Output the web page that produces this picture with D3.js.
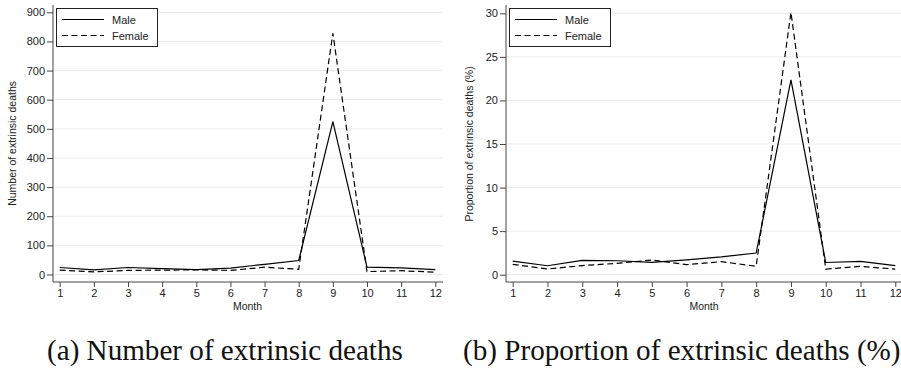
<!DOCTYPE html>
<html><head><meta charset="utf-8">
<script src="https://cdn.jsdelivr.net/npm/d3@7"></script>
<style>body{margin:0;background:#fff}svg{display:block}</style>
</head><body>
<script>
const months = [1,2,3,4,5,6,7,8,9,10,11,12];
const countMale   = [24,16,24,20,17,22,35,48,525,25,23,17];
const countFemale = [15,9,14,15,16,14,25,18,828,10,13,8];
const propMale    = [1.55,1.03,1.65,1.6,1.42,1.7,2.05,2.49,22.35,1.4,1.53,1.05];
const propFemale  = [1.19,0.65,1.05,1.3,1.68,1.15,1.5,0.97,30.1,0.65,0.95,0.65];
const countTicks = [0,100,200,300,400,500,600,700,800,900];
const propTicks  = [0,5,10,15,20,25,30];
const seriesNames = ["Male","Female"];
const captions = ["(a) Number of extrinsic deaths","(b) Proportion of extrinsic deaths (%)"];

const W = 901, H = 369;
const svg = d3.select("body").append("svg").attr("width",W).attr("height",H);
const axisColor = "#444";
const sans = "'Liberation Sans', Arial, Helvetica, sans-serif";
const serif = "'Liberation Serif', 'Times New Roman', serif";

function panel(cfg){
  const g = svg.append("g");
  const x = d3.scaleLinear().domain([1,12]).range([cfg.x1,cfg.x12]);
  const y = d3.scaleLinear().domain([cfg.ticks[0],cfg.ticks[cfg.ticks.length-1]]).range([cfg.y0,cfg.yTop]);
  g.append("g").selectAll("line").data(cfg.ticks).join("line")
    .attr("x1",cfg.axisX+1).attr("x2",cfg.right)
    .attr("y1",d=>y(d)).attr("y2",d=>y(d))
    .attr("stroke","#ebebeb").attr("stroke-width",1);
  const ya = g.append("g").attr("transform",`translate(${cfg.axisX},0)`)
    .call(d3.axisLeft(y).tickValues(cfg.ticks).tickSize(6).tickPadding(2).tickFormat(d3.format("d")));
  ya.select(".domain").attr("d",`M0,${cfg.axisTop}V${cfg.xAxisY}`).attr("stroke",axisColor);
  ya.selectAll(".tick line").attr("stroke",axisColor);
  ya.selectAll(".tick text").attr("font-family",sans).attr("font-size",11).attr("fill","#222");
  const xa = g.append("g").attr("transform",`translate(0,${cfg.xAxisY})`)
    .call(d3.axisBottom(x).tickValues(months).tickSize(5).tickPadding(2).tickFormat(d3.format("d")));
  xa.select(".domain").attr("d",`M${cfg.axisX},0H${cfg.right}`).attr("stroke",axisColor);
  xa.selectAll(".tick line").attr("stroke",axisColor);
  xa.selectAll(".tick text").attr("font-family",sans).attr("font-size",11).attr("fill","#222");
  g.append("text").attr("x",(cfg.x1+cfg.x12)/2).attr("y",cfg.xAxisY+28)
    .attr("text-anchor","middle").attr("font-family",sans).attr("font-size",10.5).attr("fill","#222").text("Month");
  g.append("text").attr("transform",`translate(${cfg.titleX},${(cfg.y0+cfg.yTop)/2}) rotate(-90)`)
    .attr("text-anchor","middle").attr("font-family",sans).attr("font-size",10.5).attr("fill","#222").text(cfg.ytitle);
  const line = d3.line().x((d,i)=>x(months[i])).y(d=>y(d));
  g.append("path").datum(cfg.male).attr("d",line).attr("fill","none").attr("stroke","#000").attr("stroke-width",1.2);
  g.append("path").datum(cfg.female).attr("d",line).attr("fill","none").attr("stroke","#000").attr("stroke-width",1.2).attr("stroke-dasharray","6,3.5");
  const lg = g.append("g").attr("transform",`translate(${cfg.legX},8.5)`);
  lg.append("rect").attr("width",101).attr("height",38).attr("fill","#fff").attr("stroke","#222").attr("stroke-width",1);
  seriesNames.forEach((n,i)=>{
    const yy = 11 + i*16;
    lg.append("line").attr("x1",5.5).attr("x2",47.5).attr("y1",yy).attr("y2",yy)
      .attr("stroke","#000").attr("stroke-width",1.2).attr("stroke-dasharray",i? "6,3.5":null);
    lg.append("text").attr("x",55.5).attr("y",yy+4).attr("font-family",sans).attr("font-size",11).attr("fill","#222").text(n);
  });
}

panel({x1:59.7,x12:435.3,axisX:53,right:443,y0:274.5,yTop:12.3,axisTop:5,xAxisY:282,
  ticks:countTicks,male:countMale,female:countFemale,titleX:16,ytitle:"Number of extrinsic deaths",
  legX:56.5});
panel({x1:512.7,x12:895.3,axisX:506,right:901,y0:274.7,yTop:13.3,axisTop:5,xAxisY:282,
  ticks:propTicks,male:propMale,female:propFemale,titleX:473,ytitle:"Proportion of extrinsic deaths (%)",
  legX:509.5});

// captions: size fitted so caption (a) spans ~356px
const capA = svg.append("text").attr("x",47).attr("y",360).attr("font-family",serif)
  .attr("font-size",26).attr("fill","#111").text(captions[0]);
const wA = capA.node().getComputedTextLength();
const fs = 26*356/wA;
capA.attr("font-size",fs);
svg.append("text").attr("x",463).attr("y",360).attr("font-family",serif)
  .attr("font-size",fs).attr("fill","#111").text(captions[1]);
</script>
</body></html>
